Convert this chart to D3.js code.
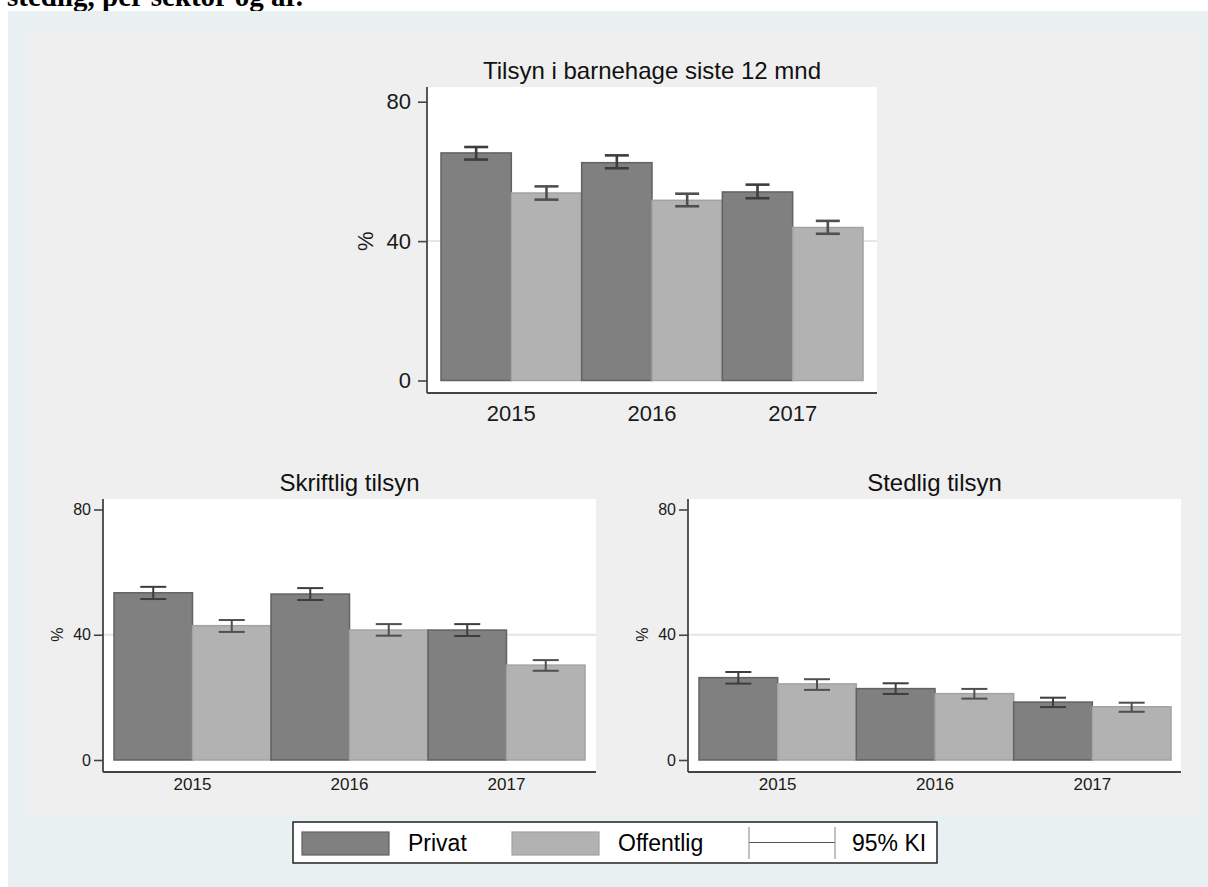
<!DOCTYPE html>
<html>
<head>
<meta charset="utf-8">
<script src="https://cdn.jsdelivr.net/npm/d3@7"></script>
<style>
  body { margin: 0; background: #fff; }
  svg { display: block; font-family: "Liberation Sans", Arial, sans-serif; }
</style>
</head>
<body>
<div class="graph"></div>
<script>
// data
var years = ["2015", "2016", "2017"],
    sectors = ["Privat", "Offentlig"],
    yTicks = [0, 40, 80];

var totalPrivat    = [65.3, 62.5, 54.1],
    totalPrivatLo  = [63.4, 60.9, 52.3],
    totalPrivatHi  = [67.0, 64.6, 56.2],
    totalOffentlig   = [53.8, 51.7, 43.9],
    totalOffentligLo = [51.9, 50.0, 42.1],
    totalOffentligHi = [55.7, 53.6, 45.8];

var skriftPrivat    = [53.4, 53.0, 41.5],
    skriftPrivatLo  = [51.4, 51.1, 39.6],
    skriftPrivatHi  = [55.3, 54.9, 43.4],
    skriftOffentlig   = [42.9, 41.5, 30.3],
    skriftOffentligLo = [40.9, 39.7, 28.5],
    skriftOffentligHi = [44.7, 43.4, 31.9];

var stedPrivat    = [26.3, 22.8, 18.5],
    stedPrivatLo  = [24.4, 21.1, 16.9],
    stedPrivatHi  = [28.1, 24.5, 19.9],
    stedOffentlig   = [24.3, 21.2, 17.0],
    stedOffentligLo = [22.4, 19.6, 15.4],
    stedOffentligHi = [25.8, 22.7, 18.3];

function rows(p, pLo, pHi, o, oLo, oHi) {
  var out = [];
  years.forEach(function(yr, i) {
    out.push({year: yr, sector: "Privat", value: p[i], lo: pLo[i], hi: pHi[i]});
    out.push({year: yr, sector: "Offentlig", value: o[i], lo: oLo[i], hi: oHi[i]});
  });
  return out;
}

var fill = {Privat: "#808080", Offentlig: "#b2b2b2"},
    edge = {Privat: "#626262", Offentlig: "#a2a2a2"},
    ciColor = {Privat: "#3d3d3d", Offentlig: "#4f4f4f"};

var panels = [
  { title: "Tilsyn i barnehage siste 12 mnd",
    data: rows(totalPrivat, totalPrivatLo, totalPrivatHi, totalOffentlig, totalOffentligLo, totalOffentligHi),
    box: {x0: 427, x1: 877, y0: 87, y1: 393}, bars: [441, 863], yr: [380.5, 101.7],
    titleY: 79, tickFont: 22, yearFont: 22, pctX: 365, tickSize: 9, tickPad: 7, yearPad: 12,
    ciW: 2.6, capW: 24 },
  { title: "Skriftlig tilsyn",
    data: rows(skriftPrivat, skriftPrivatLo, skriftPrivatHi, skriftOffentlig, skriftOffentligLo, skriftOffentligHi),
    box: {x0: 103, x1: 596, y0: 499, y1: 772}, bars: [114, 585], yr: [760, 509.5],
    titleY: 491, tickFont: 16, yearFont: 17, pctX: 57, tickSize: 9, tickPad: 3, yearPad: 6,
    ciW: 2, capW: 26 },
  { title: "Stedlig tilsyn",
    data: rows(stedPrivat, stedPrivatLo, stedPrivatHi, stedOffentlig, stedOffentligLo, stedOffentligHi),
    box: {x0: 688, x1: 1181, y0: 499, y1: 772}, bars: [699, 1171], yr: [760, 509.5],
    titleY: 491, tickFont: 16, yearFont: 17, pctX: 642, tickSize: 9, tickPad: 3, yearPad: 6,
    ciW: 2, capW: 26 }
];

var width = 1208, height = 887;

var svg = d3.select(".graph").append("svg")
    .attr("width", width)
    .attr("height", height);

// heading cut off at the top of the page
svg.append("text")
    .attr("x", 7)
    .attr("y", 6)
    .style("font-family", "'Liberation Serif', 'Times New Roman', serif")
    .style("font-weight", "bold")
    .style("font-size", "29px")
    .text("stedlig, per sektor og år.");

svg.append("rect")
    .attr("x", 8).attr("y", 11)
    .attr("width", width - 8).attr("height", height - 11)
    .attr("fill", "#e8f0f2");

svg.append("rect")
    .attr("x", 28).attr("y", 30)
    .attr("width", 1172).attr("height", 785)
    .attr("fill", "#efefef");

panels.forEach(function(p) {
  var g = svg.append("g");
  var b = p.box;

  var x = d3.scaleBand().domain(years).range(p.bars).paddingInner(0);
  var xs = d3.scaleBand().domain(sectors).range([0, x.bandwidth()]);
  var y = d3.scaleLinear().domain([0, 80]).range(p.yr);

  g.append("rect")
    .attr("x", b.x0).attr("y", b.y0)
    .attr("width", b.x1 - b.x0).attr("height", b.y1 - b.y0)
    .attr("fill", "#fff");

  // gridline at 40
  g.append("line")
    .attr("x1", b.x0).attr("x2", b.x1)
    .attr("y1", y(40)).attr("y2", y(40))
    .attr("stroke", "#e6e6e6")
    .attr("stroke-width", 2);

  g.selectAll(".bar")
    .data(p.data)
    .enter().append("rect")
      .attr("class", "bar")
      .attr("x", function(d) { return x(d.year) + xs(d.sector); })
      .attr("y", function(d) { return y(d.value); })
      .attr("width", xs.bandwidth())
      .attr("height", function(d) { return y(0) - y(d.value); })
      .attr("fill", function(d) { return fill[d.sector]; })
      .attr("stroke", function(d) { return edge[d.sector]; })
      .attr("stroke-width", 1.5);

  var ci = g.selectAll(".ci")
    .data(p.data)
    .enter().append("g")
      .attr("class", "ci")
      .attr("stroke", function(d) { return ciColor[d.sector]; })
      .attr("stroke-width", p.ciW)
      .attr("transform", function(d) {
        return "translate(" + (x(d.year) + xs(d.sector) + xs.bandwidth() / 2) + ",0)";
      });
  ci.append("line")
    .attr("y1", function(d) { return y(d.lo); })
    .attr("y2", function(d) { return y(d.hi); });
  ci.append("line")
    .attr("x1", -p.capW / 2).attr("x2", p.capW / 2)
    .attr("y1", function(d) { return y(d.lo); })
    .attr("y2", function(d) { return y(d.lo); });
  ci.append("line")
    .attr("x1", -p.capW / 2).attr("x2", p.capW / 2)
    .attr("y1", function(d) { return y(d.hi); })
    .attr("y2", function(d) { return y(d.hi); });

  // y axis
  var yAxis = g.append("g")
    .attr("transform", "translate(" + b.x0 + ",0)")
    .call(d3.axisLeft(y).tickValues(yTicks).tickSize(p.tickSize).tickSizeOuter(0).tickPadding(p.tickPad));
  yAxis.select(".domain").remove();
  yAxis.selectAll("line").attr("stroke", "#444").attr("stroke-width", 1.6);
  yAxis.selectAll("text")
    .attr("fill", "#1a1a1a")
    .style("font-size", p.tickFont + "px")
    .style("font-family", "'Liberation Sans', Arial, sans-serif");

  // x axis labels
  var xAxis = g.append("g")
    .attr("transform", "translate(0," + b.y1 + ")")
    .call(d3.axisBottom(x).tickSize(0).tickPadding(p.yearPad));
  xAxis.select(".domain").remove();
  xAxis.selectAll("text")
    .attr("fill", "#1a1a1a")
    .style("font-size", p.yearFont + "px")
    .style("font-family", "'Liberation Sans', Arial, sans-serif");

  // axis lines
  g.append("line")
    .attr("x1", b.x0).attr("x2", b.x0)
    .attr("y1", b.y0).attr("y2", b.y1)
    .attr("stroke", "#444").attr("stroke-width", 1.8);
  g.append("line")
    .attr("x1", b.x0).attr("x2", b.x1)
    .attr("y1", b.y1).attr("y2", b.y1)
    .attr("stroke", "#444").attr("stroke-width", 1.8);

  g.append("text")
    .attr("transform", "translate(" + p.pctX + "," + y(40) + ") rotate(-90)")
    .attr("text-anchor", "middle")
    .attr("dy", "0.35em")
    .attr("fill", "#1a1a1a")
    .style("font-size", p.tickFont + "px")
    .text("%");

  g.append("text")
    .attr("x", (b.x0 + b.x1) / 2)
    .attr("y", p.titleY)
    .attr("text-anchor", "middle")
    .attr("fill", "#111")
    .style("font-size", "24px")
    .text(p.title);
});

// legend
var legend = svg.append("g").attr("class", "legend");
legend.append("rect")
  .attr("x", 293).attr("y", 822)
  .attr("width", 644).attr("height", 41)
  .attr("fill", "#fff")
  .attr("stroke", "#222")
  .attr("stroke-width", 1.5);

var swatchX = [302, 512], textX = [408, 618];
sectors.forEach(function(s, i) {
  legend.append("rect")
    .attr("x", swatchX[i]).attr("y", 832)
    .attr("width", 87).attr("height", 23)
    .attr("fill", fill[s])
    .attr("stroke", edge[s])
    .attr("stroke-width", 1.2);
  legend.append("text")
    .attr("x", textX[i]).attr("y", 851)
    .style("font-size", "23px")
    .text(s);
});

legend.append("line")
  .attr("x1", 749).attr("x2", 835).attr("y1", 842.5).attr("y2", 842.5)
  .attr("stroke", "#555").attr("stroke-width", 1);
[749, 835].forEach(function(xv) {
  legend.append("line")
    .attr("x1", xv).attr("x2", xv).attr("y1", 827).attr("y2", 859)
    .attr("stroke", "#999").attr("stroke-width", 1.2);
});
legend.append("text")
  .attr("x", 852).attr("y", 851)
  .style("font-size", "23px")
  .text("95% KI");
</script>
</body>
</html>
